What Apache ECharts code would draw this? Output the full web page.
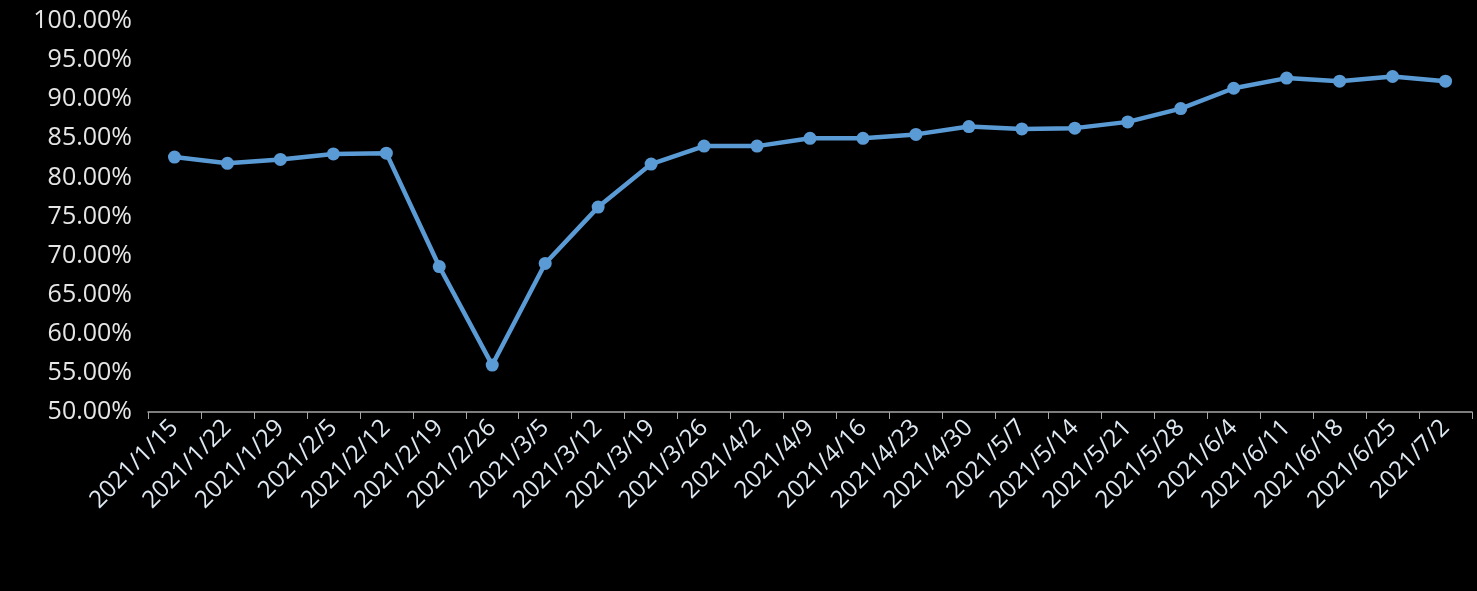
<!DOCTYPE html>
<html>
<head>
<meta charset="utf-8">
<script src="https://cdn.jsdelivr.net/npm/echarts@6/dist/echarts.min.js"></script>
<style>
html,body{margin:0;padding:0;background:#000;}
#chart{width:1477px;height:591px;}
</style>
</head>
<body>
<div id="chart"></div>
<script>
var dates = ['2021/1/15','2021/1/22','2021/1/29','2021/2/5','2021/2/12','2021/2/19','2021/2/26','2021/3/5','2021/3/12','2021/3/19','2021/3/26','2021/4/2','2021/4/9','2021/4/16','2021/4/23','2021/4/30','2021/5/7','2021/5/14','2021/5/21','2021/5/28','2021/6/4','2021/6/11','2021/6/18','2021/6/25','2021/7/2'];
var rates = [82.6,81.8,82.3,83.0,83.1,68.6,56.0,69.0,76.2,81.7,84.0,84.0,85.0,85.0,85.5,86.5,86.2,86.3,87.1,88.8,91.4,92.7,92.3,92.9,92.3];

var chart = echarts.init(document.getElementById('chart'));
chart.setOption({
    backgroundColor: '#000',
    grid: {left: 148, right: 5, top: 21, bottom: 179},
    xAxis: {
        type: 'category',
        data: dates,
        boundaryGap: true,
        axisLine: {lineStyle: {color: '#a6a6a6', width: 1.5}},
        axisTick: {show: true, length: 7, lineStyle: {color: '#a6a6a6'}},
        axisLabel: {
            interval: 0, rotate: 45, color: '#dfe9f2',
            fontSize: 24, fontFamily: 'Open Sans', margin: 12
        }
    },
    yAxis: {
        type: 'value',
        min: 50, max: 100, interval: 5,
        splitLine: {show: false},
        axisLine: {show: false},
        axisLabel: {
            color: '#e6e6e6', fontSize: 25, fontFamily: 'Open Sans', margin: 16,
            formatter: function (v) { return v.toFixed(2) + '%'; }
        }
    },
    series: [{
        type: 'line',
        data: rates,
        symbol: 'circle',
        symbolSize: 13,
        lineStyle: {color: '#5b9bd5', width: 4.5},
        itemStyle: {color: '#5b9bd5'}
    }]
});
</script>
</body>
</html>
